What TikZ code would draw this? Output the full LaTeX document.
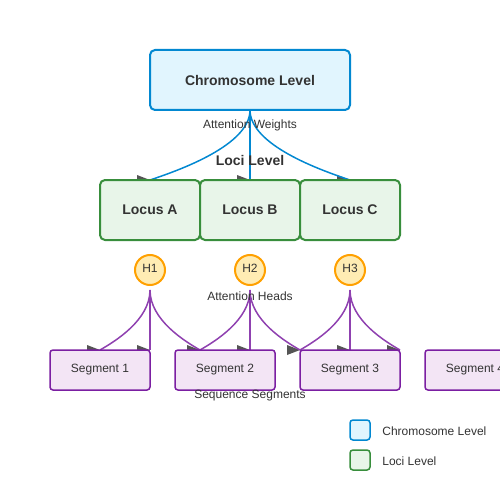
\documentclass[tikz,border=0pt]{standalone}
\usepackage{fontspec}
\setmainfont{Liberation Sans}
\usetikzlibrary{backgrounds}
\definecolor{txt}{HTML}{333333}
\definecolor{chromfill}{HTML}{E1F5FE}
\definecolor{chromline}{HTML}{0288D1}
\definecolor{locfill}{HTML}{E8F5E9}
\definecolor{locline}{HTML}{388E3C}
\definecolor{segfill}{HTML}{F3E5F5}
\definecolor{segline}{HTML}{7B1FA2}
\definecolor{headfill}{HTML}{FFECB3}
\definecolor{headline}{HTML}{FFA000}
\definecolor{arrowgray}{HTML}{555555}
\newcommand\arrowmark[1]{\fill[arrowgray] (#1) -- ++(-13,-5) -- ++(0,10) -- cycle;}
\begin{document}
\begin{tikzpicture}[x=1pt,y=-1pt,
  every node/.style={text=txt, outer sep=0pt},
  chrombox/.style={draw=chromline, fill=chromfill, line width=2pt, rounded corners=5pt,
    minimum width=200pt, minimum height=60pt, inner sep=0pt, font=\fontsize{14}{16}\selectfont\bfseries},
  locbox/.style={draw=locline, fill=locfill, line width=2pt, rounded corners=5pt,
    minimum width=100pt, minimum height=60pt, inner sep=0pt, font=\fontsize{14}{16}\selectfont\bfseries},
  segbox/.style={draw=segline, fill=segfill, line width=1.5pt, rounded corners=3pt,
    minimum width=100pt, minimum height=40pt, inner sep=0pt, font=\fontsize{12}{14}\selectfont},
  headnode/.style={circle, draw=headline, fill=headfill, line width=2pt,
    minimum size=30pt, inner sep=0pt, font=\fontsize{12}{14}\selectfont},
  bluecon/.style={draw=chromline, line width=1.5pt},
  purplecon/.style={draw=segline!85!white, line width=1.5pt},
  lbl/.style={font=\fontsize{12}{14}\selectfont},
  title/.style={font=\fontsize{14}{16}\selectfont\bfseries},
  legbox/.style={rounded corners=3pt, line width=1.5pt, minimum size=20pt, inner sep=0pt}
]
\useasboundingbox (0,0) rectangle (500,500);
\clip (0,0) rectangle (500,500);

% nodes
\node[chrombox] (chrom) at (250,80) {Chromosome Level};
\node[locbox] (la) at (150,210) {Locus A};
\node[locbox] (lb) at (250,210) {Locus B};
\node[locbox] (lc) at (350,210) {Locus C};
\node[headnode] (h1) at (150,270) {\raisebox{4pt}{H1}};
\node[headnode] (h2) at (250,270) {\raisebox{4pt}{H2}};
\node[headnode] (h3) at (350,270) {\raisebox{4pt}{H3}};
\node[segbox] (s1) at (100,370) {Segment 1};
\node[segbox] (s2) at (225,370) {Segment 2};
\node[segbox] (s3) at (350,370) {Segment 3};
\node[segbox] (s4) at (475,370) {Segment 4};

\node[lbl] (aw) at (250,125) {Attention Weights};
\node[title] (ll) at (250,160) {Loci Level};
\node[lbl] (ah) at (250,296) {Attention Heads};
\node[lbl] (ss) at (250,396) {Sequence Segments};

% legend
\node[legbox, draw=chromline, fill=chromfill] (leg1) at (360,430) {};
\node[lbl, anchor=west] (leg1t) at (379,431) {Chromosome Level};
\node[legbox, draw=locline, fill=locfill] (leg2) at (360,460) {};
\node[lbl, anchor=west] (leg2t) at (379,461) {Loci Level};

% connector end points
\coordinate (h1o) at ([yshift=-5pt]h1.south);
\coordinate (h2o) at ([yshift=-5pt]h2.south);
\coordinate (h3o) at ([yshift=-5pt]h3.south);
\coordinate (t1) at (s1.north);
\coordinate (t2) at (s1.north east);
\coordinate (t3) at ([xshift=25pt]s2.north west);
\coordinate (t4) at ([xshift=75pt]s2.north west);
\coordinate (t5) at (s3.north west);
\coordinate (t6) at (s3.north);
\coordinate (t7) at (s3.north east);

\begin{scope}[on background layer]
  % arrow marks
  \arrowmark{la.north}
  \arrowmark{lb.north}
  \arrowmark{lc.north}
  \arrowmark{t1}\arrowmark{t2}\arrowmark{t3}\arrowmark{t4}
  \arrowmark{t5}\arrowmark{t6}\arrowmark{t7}
  % blue connectors
  \draw[bluecon] (chrom.south) .. controls +(0,35) and +(30,-10) .. (la.north);
  \draw[bluecon] (chrom.south) -- (lb.north);
  \draw[bluecon] (chrom.south) .. controls +(0,35) and +(-30,-10) .. (lc.north);
  % purple connectors
  \draw[purplecon] (h1o) .. controls +(0,30) and +(15,-8.6) .. (t1);
  \draw[purplecon] (h1o) -- (t2);
  \draw[purplecon] (h1o) .. controls +(0,30) and +(-15,-8.6) .. (t3);
  \draw[purplecon] (h2o) .. controls +(0,30) and +(15,-8.6) .. (t3);
  \draw[purplecon] (h2o) -- (t4);
  \draw[purplecon] (h2o) .. controls +(0,30) and +(-15,-8.6) .. (t5);
  \draw[purplecon] (h3o) .. controls +(0,30) and +(15,-8.6) .. (t5);
  \draw[purplecon] (h3o) -- (t6);
  \draw[purplecon] (h3o) .. controls +(0,30) and +(-15,-8.6) .. (t7);
\end{scope}
\end{tikzpicture}
\end{document}
